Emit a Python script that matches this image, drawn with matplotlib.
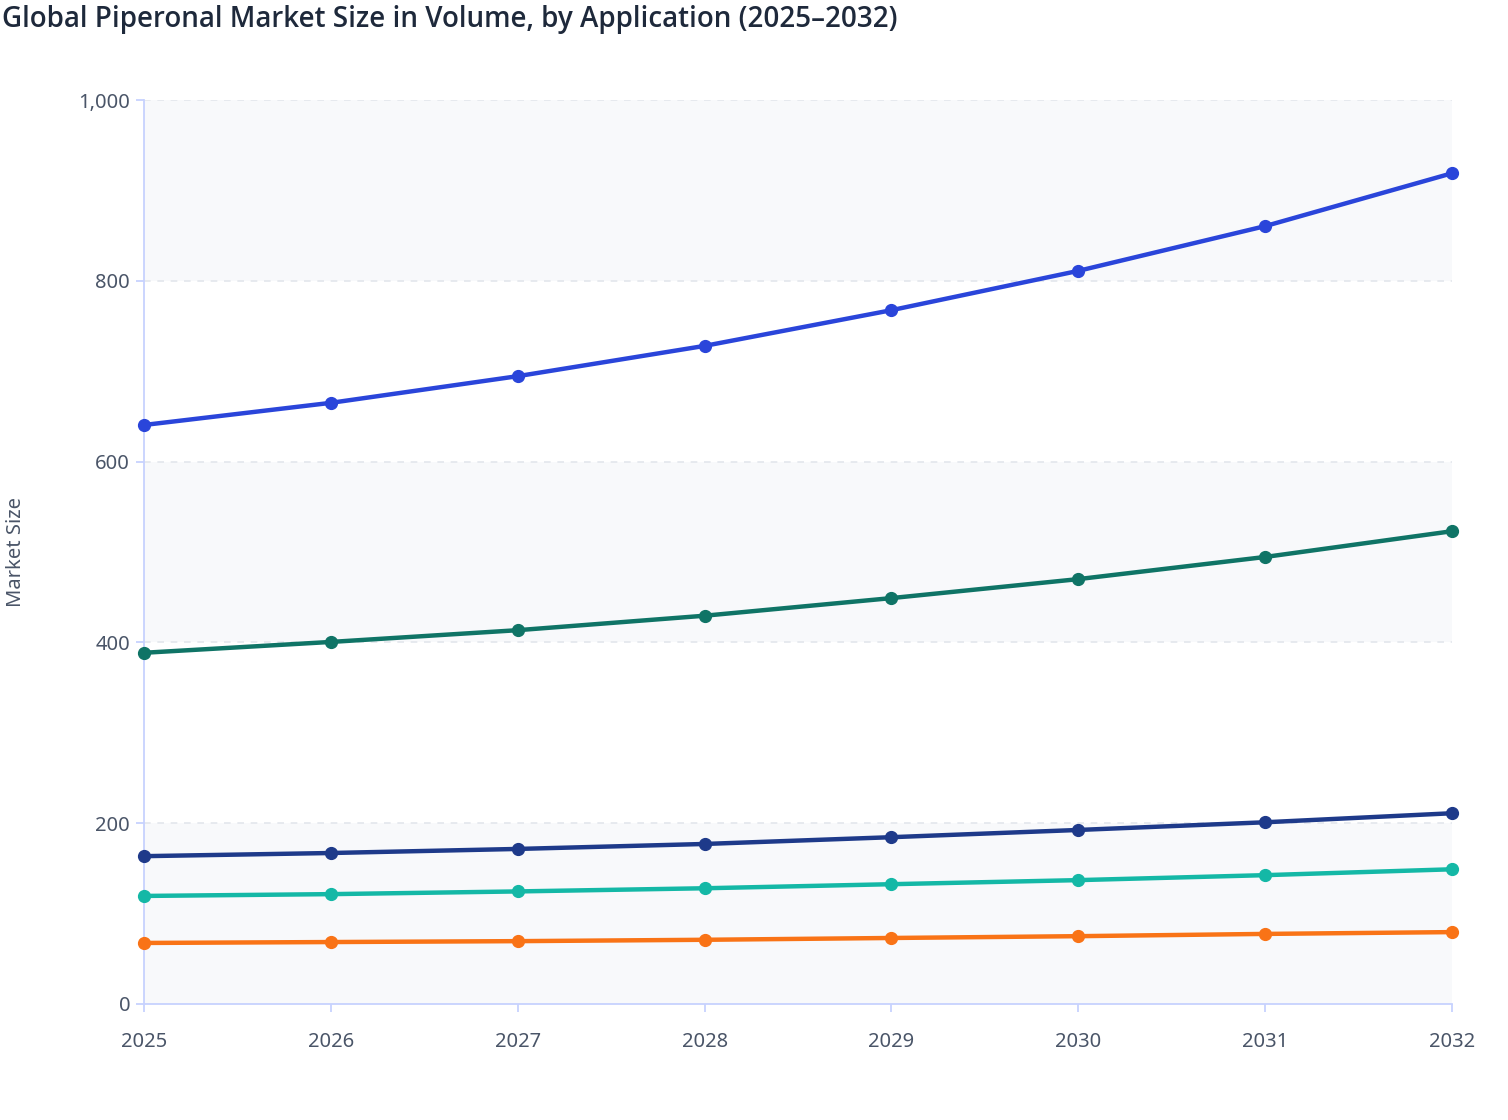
import numpy as np
import matplotlib.pyplot as plt

# ------------------- Data -------------------
years = [2025, 2026, 2027, 2028, 2029, 2030, 2031, 2032]
series_a = [640.5, 665, 694.5, 728, 767.5, 811, 860.5, 919]
series_b = [388.5, 400.5, 413.5, 429.5, 449, 470, 494.5, 523]
series_c = [163.5, 167, 171.5, 177, 184.5, 192.5, 201, 211]
series_d = [119.5, 121.5, 124.5, 128, 132.5, 137, 142.5, 149]
series_e = [67.5, 68.5, 69.5, 71, 73, 75, 77.5, 79.5]
y_ticks = [0, 200, 400, 600, 800, 1000]
y_tick_labels = ['0', '200', '400', '600', '800', '1,000']

colors = ['#2a45da', '#0f7466', '#1e3a8a', '#14b8a6', '#f97316']

plt.rcParams['font.family'] = ['Noto Sans', 'DejaVu Sans']

# ------------------- Figure -------------------
fig = plt.figure(figsize=(15.08, 11.2), dpi=100)
ax = fig.add_axes([0.0955, 0.1036, 0.8674, 0.8071])

# alternating bands
for i in range(0, len(y_ticks) - 1, 2):
    ax.axhspan(y_ticks[i], y_ticks[i + 1], color='#f8f9fb', zorder=0, lw=0)

for yt in y_ticks[1:]:
    ax.axhline(yt, color='#e3e6ec', lw=1.2, ls=(0, (4, 4)), zorder=1)

for vals, c in zip([series_a, series_b, series_c, series_d, series_e], colors):
    ax.plot(years, vals, color=c, lw=3.2, marker='o', markersize=8.5,
            clip_on=False, zorder=3, solid_capstyle='round')

ax.set_xlim(2025, 2032)
ax.set_ylim(0, 1000)
ax.set_xticks(years)
ax.set_xticklabels([str(y) for y in years])
ax.set_yticks(y_ticks)
ax.set_yticklabels(y_tick_labels)

axis_col = '#c7d2fe'
for side in ['top', 'right']:
    ax.spines[side].set_visible(False)
for side in ['left', 'bottom']:
    ax.spines[side].set_color(axis_col)
    ax.spines[side].set_linewidth(1.3)
ax.tick_params(axis='both', colors=axis_col, labelcolor='#4a5568',
               labelsize=14.5, length=6, width=1.3)
ax.tick_params(axis='x', pad=14)
ax.tick_params(axis='y', pad=4)

fig.text(16 / 1508, 1 - 552 / 1120, 'Market Size', fontsize=14.5, color='#4a5568',
         rotation=90, ha='center', va='center')

fig.text(0.001, 0.983, 'Global Piperonal Market Size in Volume, by Application (2025\u20132032)',
         fontsize=20, fontweight=600, family=['Open Sans', 'Noto Sans'],
         color='#1e293b', ha='left', va='center')

fig.savefig('out.png', dpi=100)
